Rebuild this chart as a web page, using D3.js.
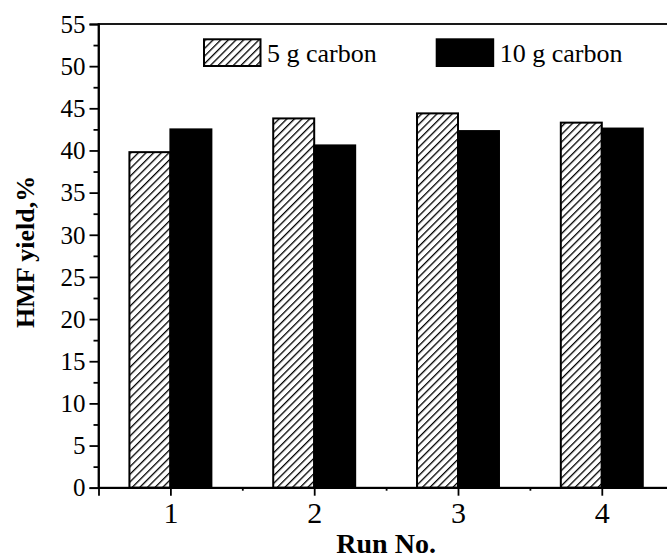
<!DOCTYPE html>
<html>
<head>
<meta charset="utf-8">
<script src="https://cdn.jsdelivr.net/npm/d3@7"></script>
<style>
  html, body { margin: 0; padding: 0; background: #fff; }
  svg { display: block; }
  text { font-family: "Liberation Serif", "Times New Roman", serif; fill: #000; }
</style>
</head>
<body>
<svg id="chart" width="667" height="558"></svg>
<script>
// HMF yield per reuse run, for two carbon loadings
const runs = [1, 2, 3, 4];
const seriesNames = ["5 g carbon", "10 g carbon"];
const yield5g = [39.8, 43.8, 44.4, 43.3];
const yield10g = [42.5, 40.6, 42.3, 42.6];
const yTicks = [0, 5, 10, 15, 20, 25, 30, 35, 40, 45, 50, 55];
const yMinorTicks = [2.5, 7.5, 12.5, 17.5, 22.5, 27.5, 32.5, 37.5, 42.5, 47.5, 52.5];
const xMinorTicks = [1.5, 2.5, 3.5];

const svg = d3.select("#chart");
const plotL = 98.5, plotR = 673.7, plotT = 24, plotB = 487.7;

const x = d3.scaleLinear().domain([0.5, 4.5]).range([plotL, plotR]);
const y = d3.scaleLinear().domain([0, 55]).range([plotB, plotT]);
const barW = x(1.285) - x(1);

// diagonal hatch fill
const hs = 5.4;
const defs = svg.append("defs");
const pat = defs.append("pattern")
  .attr("id", "hatch")
  .attr("patternUnits", "userSpaceOnUse")
  .attr("width", hs).attr("height", hs)
  .attr("patternTransform", "rotate(45)");
pat.append("rect").attr("width", hs).attr("height", hs).attr("fill", "#fff");
pat.append("line")
  .attr("x1", 0).attr("y1", 0).attr("x2", 0).attr("y2", hs)
  .attr("stroke", "#000").attr("stroke-width", 2.6);

const series = [
  { name: seriesNames[0], values: yield5g, fill: "url(#hatch)", offset: -1 },
  { name: seriesNames[1], values: yield10g, fill: "#000", offset: 0 }
];

// bars
series.forEach(s => {
  svg.append("g").selectAll("rect")
    .data(runs.map((r, i) => ({ run: r, v: s.values[i] })))
    .join("rect")
    .attr("x", d => x(d.run) + s.offset * barW)
    .attr("y", d => y(d.v))
    .attr("width", barW)
    .attr("height", d => y(0) - y(d.v))
    .attr("fill", s.fill)
    .attr("stroke", "#000")
    .attr("stroke-width", 2);
});

// frame
svg.append("rect")
  .attr("x", plotL).attr("y", plotT)
  .attr("width", plotR - plotL).attr("height", plotB - plotT)
  .attr("fill", "none").attr("stroke", "#000").attr("stroke-width", 1.8);

// y axis
const yAxis = d3.axisLeft(y).tickValues(yTicks).tickSize(9).tickPadding(4)
  .tickFormat(d3.format("d"));
const gy = svg.append("g").attr("transform", `translate(${plotL},0)`).call(yAxis);
gy.select(".domain").attr("stroke-width", 1.8);
gy.selectAll(".tick line").attr("stroke-width", 1.8);
gy.selectAll(".tick text")
  .style("font-family", '"Liberation Serif", serif')
  .style("font-size", "25px")
  .attr("dy", "0.33em");
svg.append("g").attr("transform", `translate(${plotL},0)`)
  .call(d3.axisLeft(y).tickValues(yMinorTicks).tickSize(5).tickFormat(""))
  .call(g => g.select(".domain").remove())
  .selectAll("line").attr("stroke-width", 1.8);

// x axis
const xAxis = d3.axisBottom(x).tickValues(runs).tickSize(8).tickPadding(6)
  .tickFormat(d3.format("d"));
const gx = svg.append("g").attr("transform", `translate(0,${plotB})`).call(xAxis);
gx.select(".domain").attr("stroke-width", 1.8);
gx.selectAll(".tick line").attr("stroke-width", 1.8);
gx.selectAll(".tick text")
  .style("font-family", '"Liberation Serif", serif')
  .style("font-size", "30px");
svg.append("g").attr("transform", `translate(0,${plotB})`)
  .call(d3.axisBottom(x).tickValues(xMinorTicks).tickSize(3).tickFormat(""))
  .call(g => g.select(".domain").remove())
  .selectAll("line").attr("stroke-width", 1.8);

// axis titles
svg.append("text")
  .attr("transform", `translate(34,${(plotT + plotB) / 2 - 4}) rotate(-90)`)
  .attr("text-anchor", "middle")
  .style("font-size", "26px").style("font-weight", "bold")
  .text("HMF yield,%");
svg.append("text")
  .attr("x", (plotL + plotR) / 2).attr("y", 553)
  .attr("text-anchor", "middle")
  .style("font-size", "28px").style("font-weight", "bold")
  .text("Run No.");

// legend
const legendX = [204, 436.7];
const lg = svg.append("g");
series.forEach((s, i) => {
  lg.append("rect")
    .attr("x", legendX[i]).attr("y", 39.3)
    .attr("width", 56.5).attr("height", 26.7)
    .attr("fill", s.fill).attr("stroke", "#000").attr("stroke-width", 2);
  lg.append("text")
    .attr("x", legendX[i] + 63).attr("y", 61.7)
    .style("font-size", "26px")
    .text(s.name);
});
</script>
</body>
</html>
